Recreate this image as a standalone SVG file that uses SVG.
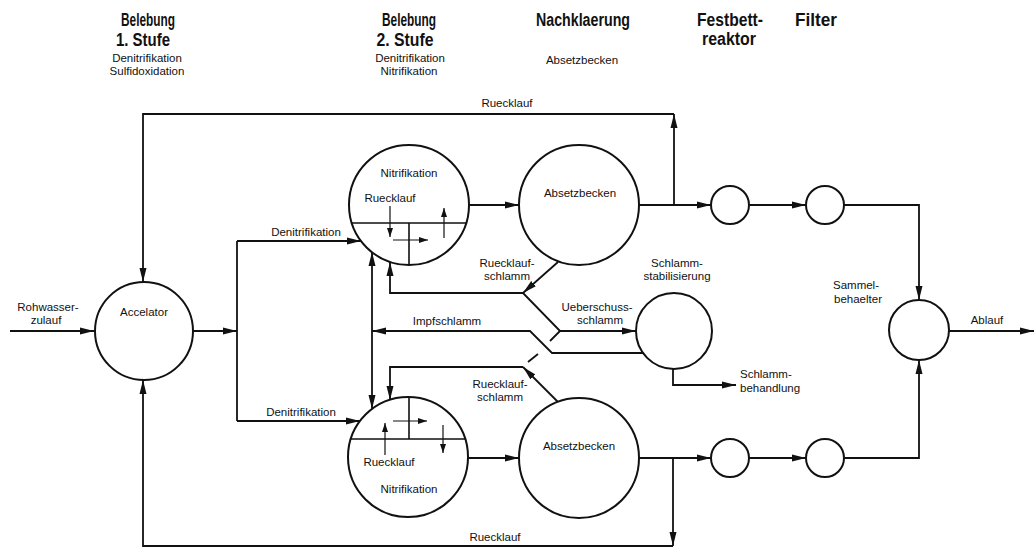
<svg xmlns="http://www.w3.org/2000/svg" width="1034" height="548" viewBox="0 0 1034 548">
<style>
.h{font-family:"Liberation Sans",Arial,sans-serif;font-size:18px;font-weight:bold;fill:#111;text-anchor:middle}
.s{font-family:"Liberation Sans",Arial,sans-serif;font-size:11.5px;fill:#111;text-anchor:middle}
.l{text-anchor:start}
.n{fill:#fff;stroke:#111;stroke-width:2}
.c{fill:none;stroke:#111;stroke-width:1.8;stroke-linejoin:miter}
.t{fill:none;stroke:#111;stroke-width:1.2}
</style>
<defs>
<marker id="a" viewBox="0 0 14 8" refX="14" refY="4" markerWidth="14" markerHeight="8" markerUnits="userSpaceOnUse" orient="auto"><path d="M0,0.5 L14,4 L0,7.5 Z" fill="#111"/></marker>
<marker id="b" viewBox="0 0 9 6" refX="9" refY="3" markerWidth="9" markerHeight="6" markerUnits="userSpaceOnUse" orient="auto"><path d="M0,0 L9,3 L0,6 Z" fill="#111"/></marker>
</defs>
<rect width="1034" height="548" fill="#fff"/>

<g id="headers">
<text class="h" x="148" y="26" textLength="54" lengthAdjust="spacingAndGlyphs">Belebung</text>
<text class="h" x="143" y="46" textLength="54" lengthAdjust="spacingAndGlyphs">1. Stufe</text>
<text class="s" x="147" y="62">Denitrifikation</text>
<text class="s" x="147" y="75">Sulfidoxidation</text>
<text class="h" x="409" y="26" textLength="54" lengthAdjust="spacingAndGlyphs">Belebung</text>
<text class="h" x="405" y="46" textLength="57" lengthAdjust="spacingAndGlyphs">2. Stufe</text>
<text class="s" x="410" y="62">Denitrifikation</text>
<text class="s" x="409" y="75">Nitrifikation</text>
<text class="h" x="583" y="26" textLength="94" lengthAdjust="spacingAndGlyphs">Nachklaerung</text>
<text class="s" x="582" y="64">Absetzbecken</text>
<text class="h" x="730" y="26" textLength="66" lengthAdjust="spacingAndGlyphs">Festbett-</text>
<text class="h" x="729" y="45" textLength="54" lengthAdjust="spacingAndGlyphs">reaktor</text>
<text class="h" x="816" y="26" textLength="42" lengthAdjust="spacingAndGlyphs">Filter</text>
</g>

<g id="connectors">
<path class="c" d="M10,331 H94" marker-end="url(#a)"/>
<path class="c" d="M193,331 H237" marker-end="url(#a)"/>
<path class="c" d="M237,241 V421"/>
<path class="c" d="M237,241 H361" marker-end="url(#a)"/>
<path class="c" d="M237,421 H360" marker-end="url(#a)"/>
<path class="c" d="M469,205 H519" marker-end="url(#a)"/>
<path class="c" d="M639,205 H711" marker-end="url(#a)"/>
<path class="c" d="M674,205 V114" marker-end="url(#a)"/>
<path class="c" d="M674,114 H143 V282" marker-end="url(#a)"/>
<path class="c" d="M749,205 H806" marker-end="url(#a)"/>
<path class="c" d="M844,205 H919 V300" marker-end="url(#a)"/>
<path class="c" d="M949,331 H1034" marker-end="url(#a)"/>
<path class="c" d="M468,458 H519" marker-end="url(#a)"/>
<path class="c" d="M639,458 H711" marker-end="url(#a)"/>
<path class="c" d="M673,458 V546" marker-end="url(#a)"/>
<path class="c" d="M673,546 H143 V380" marker-end="url(#a)"/>
<path class="c" d="M749,458 H806" marker-end="url(#a)"/>
<path class="c" d="M844,458 H919 V360" marker-end="url(#a)"/>
<path class="c" d="M372,331 V252" marker-end="url(#a)"/>
<path class="c" d="M372,331 V409" marker-end="url(#a)"/>
<path class="c" d="M558,262 L523,293" marker-end="url(#a)"/>
<path class="c" d="M523,293 H390 V262" marker-end="url(#a)"/>
<path class="c" d="M523,293 L560,331 H636" marker-end="url(#a)"/>
<path class="c" d="M560,331 L550,341"/>
<path class="c" d="M645,353 H552 L530,331 H372" marker-end="url(#a)"/>
<path class="c" d="M673,369 V385 H736" marker-end="url(#a)"/>
<path class="c" d="M558,402 L523,367" marker-end="url(#a)"/>
<path class="c" d="M523,367 H390 V400" marker-end="url(#a)"/>
<path class="c" d="M528,362 L538,354"/>
</g>

<g id="accelator">
<circle class="n" cx="144" cy="331" r="49"/>
<text class="s" x="144" y="316">Accelator</text>
</g>
<g id="nitri-top">
<circle class="n" cx="409" cy="205" r="60"/>
<path class="t" d="M352,223 H466 M409,223 V265" style="stroke-width:1.6"/>
<path class="t" d="M390,206 V237" marker-end="url(#b)"/>
<path class="t" d="M393,240 H428" marker-end="url(#b)"/>
<path class="t" d="M444,238 V208" marker-end="url(#b)"/>
<text class="s" x="409" y="177">Nitrifikation</text>
<text class="s" x="390" y="202">Ruecklauf</text>
</g>
<g id="nitri-bottom">
<circle class="n" cx="408" cy="457" r="60"/>
<path class="t" d="M351,439 H465 M409,397 V439" style="stroke-width:1.6"/>
<path class="t" d="M393,421 H427" marker-end="url(#b)"/>
<path class="t" d="M385,455 V423" marker-end="url(#b)"/>
<path class="t" d="M443,425 V453" marker-end="url(#b)"/>
<text class="s" x="389" y="466">Ruecklauf</text>
<text class="s" x="409" y="493">Nitrifikation</text>
</g>
<g id="absetz-top">
<circle class="n" cx="579" cy="205" r="60"/>
<text class="s" x="580" y="197">Absetzbecken</text>
</g>
<g id="absetz-bottom">
<circle class="n" cx="579" cy="458" r="60"/>
<text class="s" x="579" y="450">Absetzbecken</text>
</g>
<g id="festbett-top"><circle class="n" cx="730" cy="205" r="19"/></g>
<g id="filter-top"><circle class="n" cx="825" cy="205" r="19"/></g>
<g id="festbett-bottom"><circle class="n" cx="730" cy="458" r="19"/></g>
<g id="filter-bottom"><circle class="n" cx="825" cy="458" r="19"/></g>
<g id="schlammstab">
<circle class="n" cx="674" cy="331" r="38"/>
<text class="s" x="677" y="267">Schlamm-</text>
<text class="s" x="677" y="280">stabilisierung</text>
</g>
<g id="sammel">
<circle class="n" cx="919" cy="330" r="30"/>
<text class="s" x="856" y="289">Sammel-</text>
<text class="s" x="858" y="303">behaelter</text>
</g>

<g id="labels">
<text class="s" x="48" y="311">Rohwasser-</text>
<text class="s" x="46" y="324">zulauf</text>
<text class="s" x="507" y="107">Ruecklauf</text>
<text class="s" x="306" y="236">Denitrifikation</text>
<text class="s" x="301" y="416">Denitrifikation</text>
<text class="s" x="507" y="267">Ruecklauf-</text>
<text class="s" x="507" y="280">schlamm</text>
<text class="s" x="597" y="311">Ueberschuss-</text>
<text class="s" x="600" y="324">schlamm</text>
<text class="s" x="447" y="325">Impfschlamm</text>
<text class="s l" x="740" y="378">Schlamm-</text>
<text class="s l" x="740" y="392">behandlung</text>
<text class="s" x="500" y="388">Ruecklauf-</text>
<text class="s" x="500" y="401">schlamm</text>
<text class="s" x="987" y="324">Ablauf</text>
<text class="s" x="495" y="541">Ruecklauf</text>
</g>
</svg>
